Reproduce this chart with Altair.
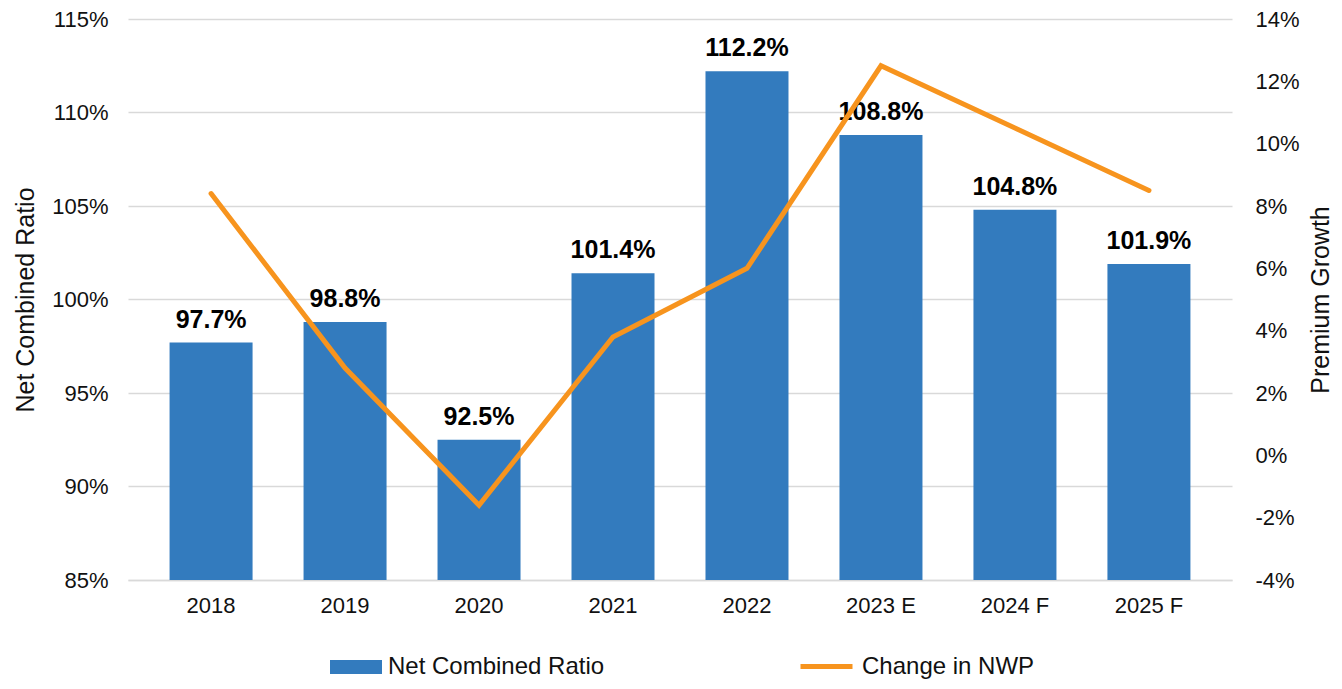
import altair as alt
import pandas as pd

years = ["2018", "2019", "2020", "2021", "2022", "2023 E", "2024 F", "2025 F"]
net_combined_ratio = [0.977, 0.988, 0.925, 1.014, 1.122, 1.088, 1.048, 1.019]
change_in_nwp = [0.084, 0.028, -0.016, 0.038, 0.060, 0.125, 0.105, 0.085]
left_ticks = [0.85, 0.90, 0.95, 1.00, 1.05, 1.10, 1.15]
right_ticks = [-0.04, -0.02, 0, 0.02, 0.04, 0.06, 0.08, 0.10, 0.12, 0.14]
bar_series = "Net Combined Ratio"
line_series = "Change in NWP"

BAR_COLOR = "#337BBE"
LINE_COLOR = "#F7941E"
FONT = "Liberation Sans"
TXT = "#111111"

df = pd.DataFrame({
    "year": years,
    "ncr": net_combined_ratio,
    "nwp": change_in_nwp,
    "s1": [bar_series] * len(years),
    "s2": [line_series] * len(years),
})

x_enc = alt.X(
    "year:N",
    sort=years,
    scale=alt.Scale(paddingInner=0.38, paddingOuter=0.31),
    axis=alt.Axis(title=None, labelAngle=0, labelFontSize=22, labelPadding=15,
                  ticks=False, domain=True, domainColor="#d9d9d9", domainWidth=1.5,
                  labelColor=TXT),
)

y_left = alt.Y(
    "ncr:Q",
    scale=alt.Scale(domain=[0.85, 1.15], zero=False, nice=False),
    axis=alt.Axis(title="Net Combined Ratio", format=".0%", values=left_ticks,
                  labelFontSize=22, titleFontSize=25, titleFontWeight="normal",
                  titlePadding=13, labelPadding=20, ticks=False, domain=False,
                  grid=True, gridColor="#d9d9d9", gridWidth=1.5,
                  labelColor=TXT, titleColor=TXT),
)

bars = alt.Chart(df).mark_bar(size=83).encode(
    x=x_enc,
    y=y_left,
    y2=alt.datum(0.85),
    fill=alt.Fill("s1:N", scale=alt.Scale(domain=[bar_series], range=[BAR_COLOR]),
                  legend=alt.Legend(orient="none", legendX=202, legendY=622, title=None,
                                    symbolType="M-1,-0.27H1V0.27H-1Z", symbolSize=2704,
                                    symbolStrokeWidth=0, labelFontSize=24, labelFont=FONT,
                                    labelColor=TXT, labelOffset=6, labelLimit=500)),
)

labels = alt.Chart(df).mark_text(dy=-15, baseline="alphabetic", fontSize=25, fontWeight="bold",
                                 font=FONT, color="#000").encode(
    x=alt.X("year:N", sort=years),
    y=alt.Y("ncr:Q"),
    text=alt.Text("ncr:Q", format=".1%"),
)

left = alt.layer(bars, labels)

line = alt.Chart(df).mark_line(strokeWidth=5, strokeCap="round", strokeJoin="miter").encode(
    x=alt.X("year:N", sort=years),
    y=alt.Y("nwp:Q",
            scale=alt.Scale(domain=[-0.04, 0.14], nice=False),
            axis=alt.Axis(title="Premium Growth", orient="right", values=right_ticks,
                          labelExpr="replace(format(datum.value, '.0%'), '\u2212', '-')",
                          labelFontSize=22, titleFontSize=25, titleFontWeight="normal",
                          titleAngle=270, titleBaseline="top",
                          titlePadding=9, labelPadding=23, ticks=False, domain=False, grid=False,
                          labelColor=TXT, titleColor=TXT)),
    stroke=alt.Stroke("s2:N", scale=alt.Scale(domain=[line_series], range=[LINE_COLOR]),
                      legend=alt.Legend(orient="none", legendX=670, legendY=619, title=None,
                                        symbolType="stroke", symbolSize=2704, symbolStrokeWidth=5,
                                        labelFontSize=24, labelFont=FONT, labelColor=TXT,
                                        labelOffset=7, labelLimit=500)),
)

chart = alt.layer(left, line).resolve_scale(y="independent").properties(
    width=1104,
    height=561,
    autosize=alt.AutoSizeParams(type="none"),
    padding={"left": 120, "top": 11, "right": 102, "bottom": 100},
).configure(font=FONT).configure_view(stroke=None)

chart.save("out.html", embed_options={"renderer": "svg", "actions": False})
